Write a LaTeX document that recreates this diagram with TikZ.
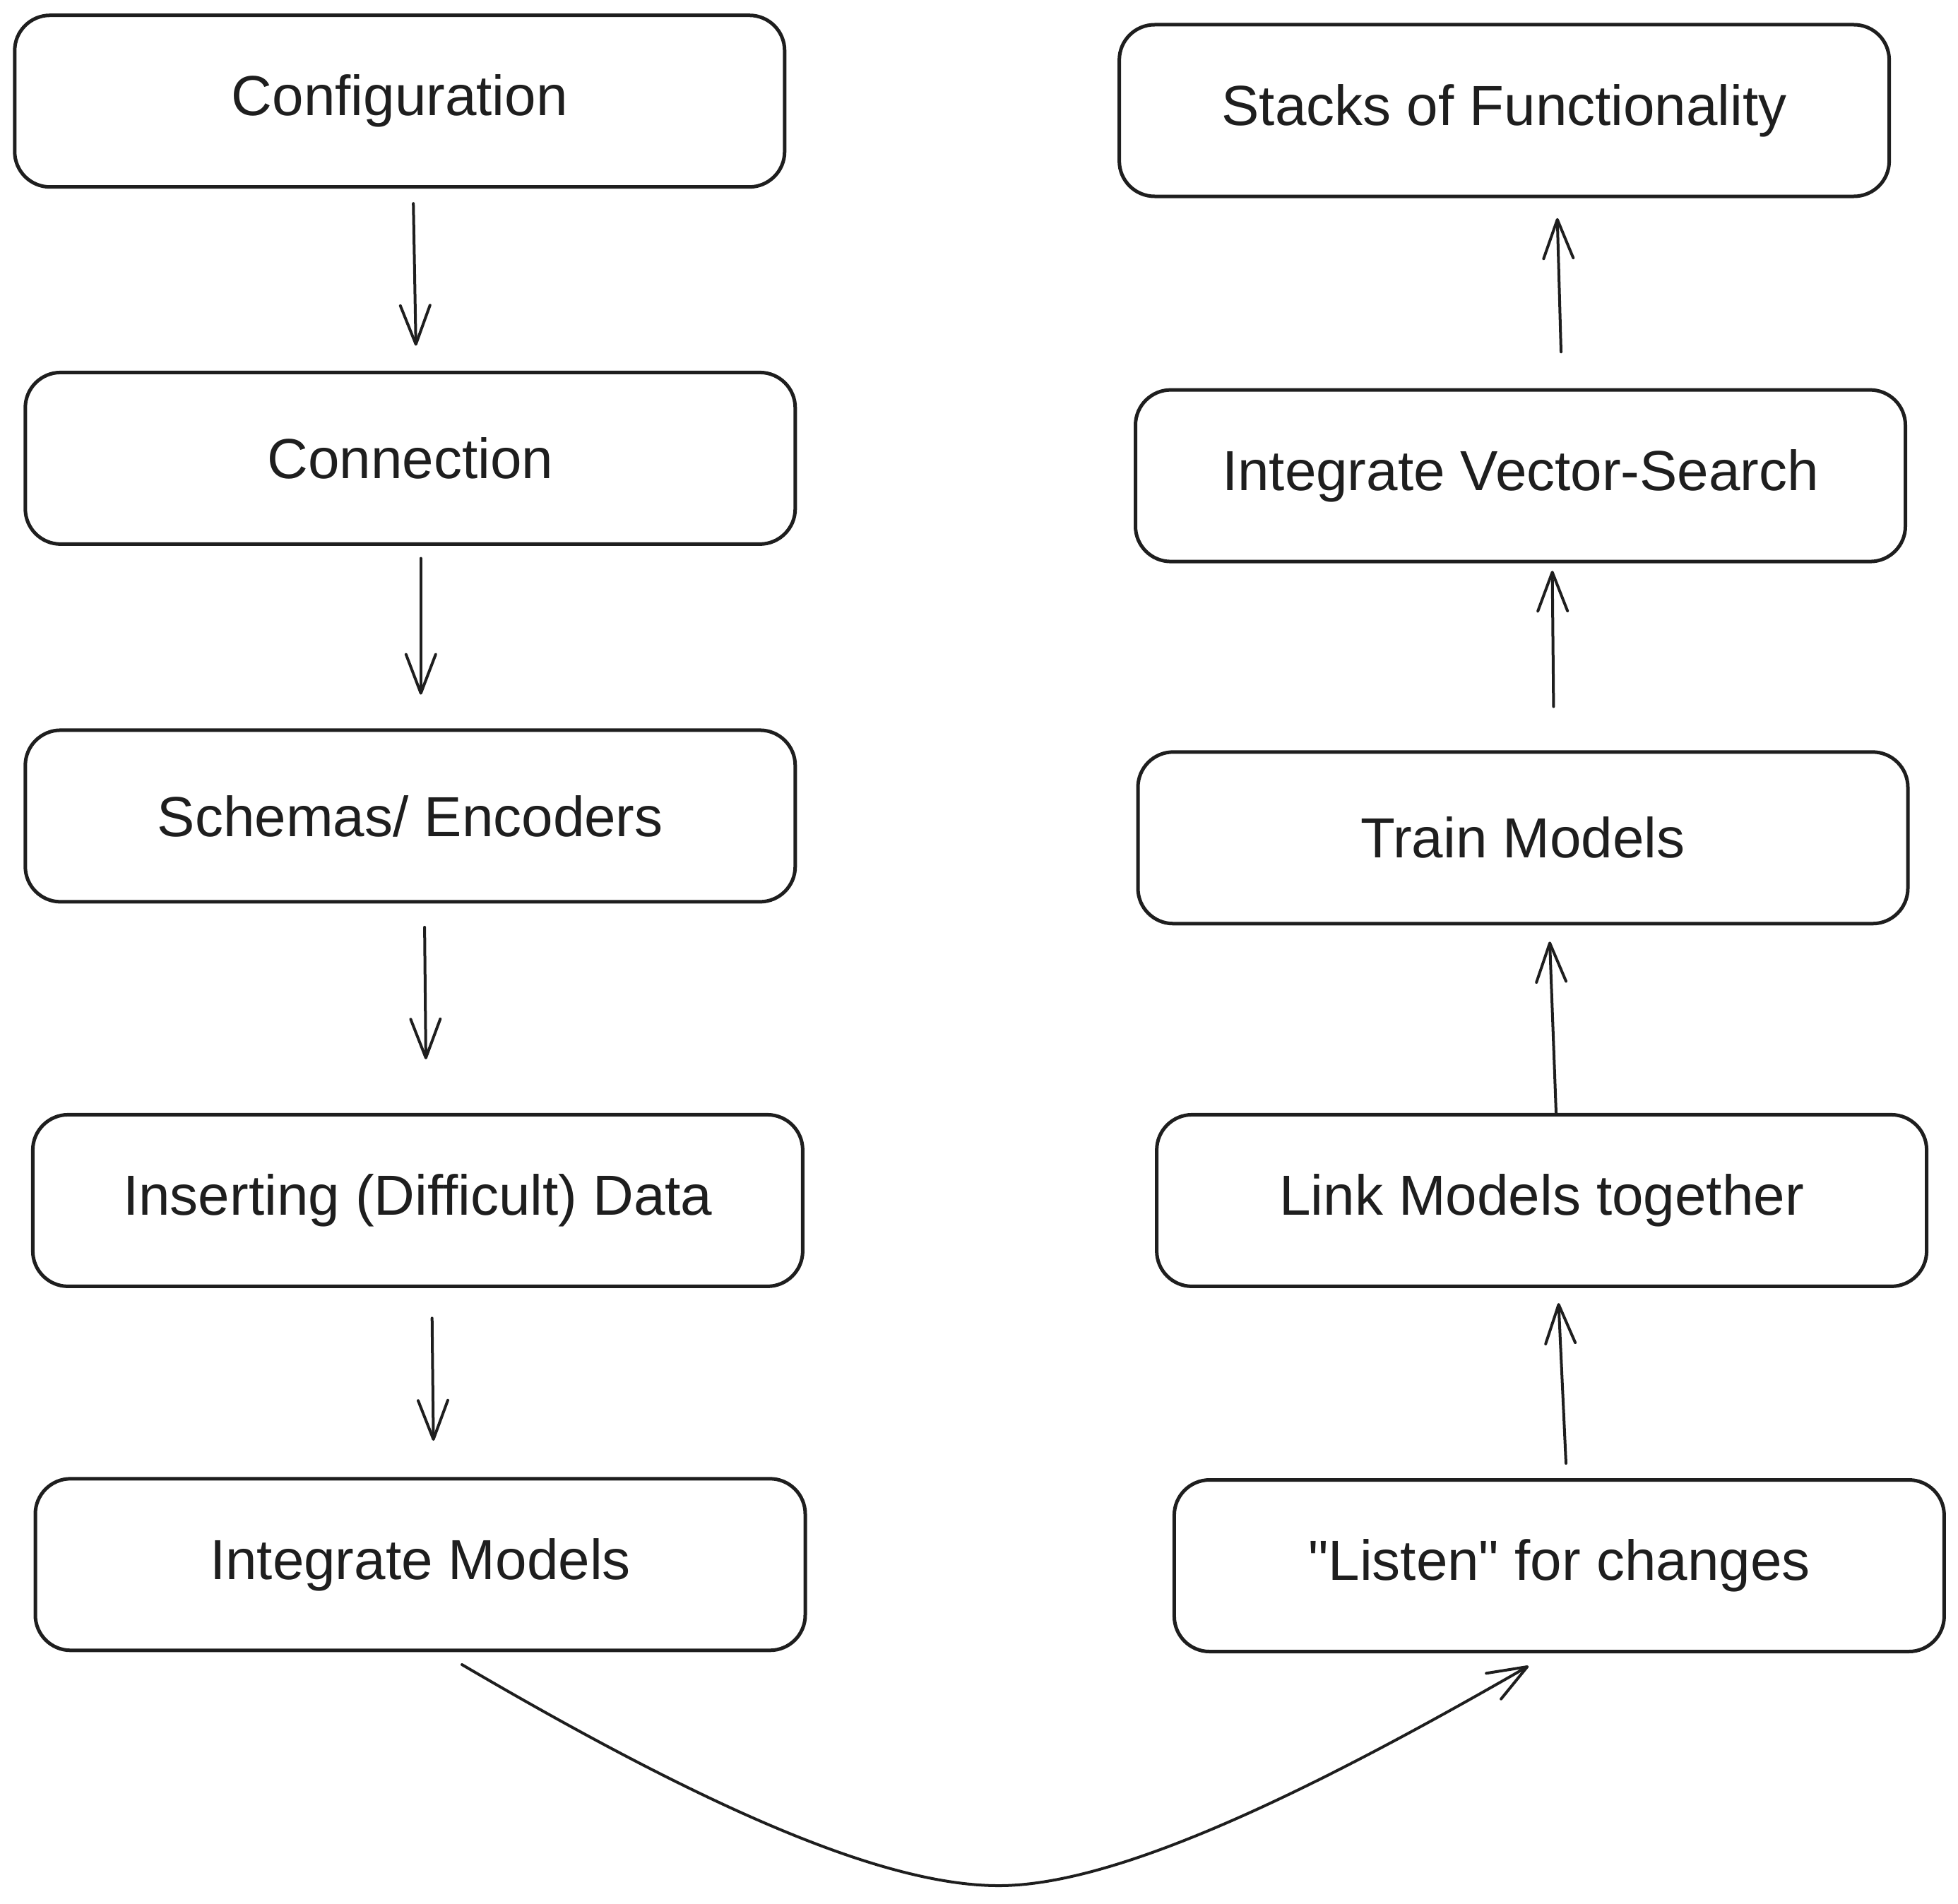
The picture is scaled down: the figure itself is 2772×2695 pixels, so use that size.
\documentclass[tikz,border=0pt]{standalone}
\usepackage{fontspec}
\setmainfont{Liberation Sans}[Ligatures=TeXOff]
\usetikzlibrary{arrows.meta,calc}
\definecolor{ink}{HTML}{1E1E1E}
\tikzset{
  stepbox/.style={draw=ink, line width=5pt, rounded corners=50pt,
    minimum width=1090pt, minimum height=243pt, inner sep=0pt,
    text=ink, font=\fontsize{80}{96}\selectfont},
  arr/.style={draw=ink, line width=4pt, line cap=round,
    -{Straight Barb[length=55pt,width=42pt,line width=4pt,round]}}
}
\begin{document}
\begin{tikzpicture}[x=1pt,y=-1pt]
\useasboundingbox (0,0) rectangle (2772,2695);
\node[stepbox] (c1) at (565.8,143.2) {Configuration};
\node[stepbox] (c2) at (580.8,648.9) {Connection};
\node[stepbox] (c3) at (580.8,1155.4) {Schemas/ Encoders};
\node[stepbox] (c4) at (591.4,1699.9) {Inserting (Difficult) Data};
\node[stepbox] (c5) at (595,2215.3) {Integrate Models};
\node[stepbox] (c6) at (2129.6,156.5) {Stacks of Functionality};
\node[stepbox] (c7) at (2152.5,673.6) {Integrate Vector-Search};
\node[stepbox] (c8) at (2156,1186.3) {Train Models};
\node[stepbox] (c9) at (2182.6,1699.9) {Link Models together};
\node[stepbox] (c10) at (2207.4,2217) {"Listen" for changes};
% left column, downward
\draw[arr] ($(c1.south)+(19.4,21)$) -- ($(c2.north)+(8,-35.4)$);
\draw[arr] ($(c2.south)+(15,17.7)$) -- ($(c3.north)+(15,-47.8)$);
\draw[arr] ($(c3.south)+(20.3,33.5)$) -- ($(c4.north)+(11.5,-76)$);
\draw[arr] ($(c4.south)+(20.3,42.5)$) -- ($(c5.north)+(18.6,-51.3)$);
% bottom curve
\coordinate (bot) at (1414,2670);
\draw[arr] ($(c5.south)+(59,17.7)$) .. controls (1000,2560) and (1250,2670) .. (bot)
  .. controls (1580,2670) and (1850,2540) .. ($(c10.south)+(-43.4,18)$);
% right column, upward
\draw[arr] ($(c10.north)+(9.6,-21)$) -- ($(c9.south)+(23.9,21.2)$);
\draw[arr] ($(c9.north)+(20.4,0)$) -- ($(c8.south)+(38,23)$);
\draw[arr] ($(c8.north)+(43.4,-61.8)$) -- ($(c7.south)+(45.1,10.6)$);
\draw[arr] ($(c7.north)+(57.5,-51.3)$) -- ($(c6.south)+(75.1,28.3)$);
\end{tikzpicture}
\end{document}
